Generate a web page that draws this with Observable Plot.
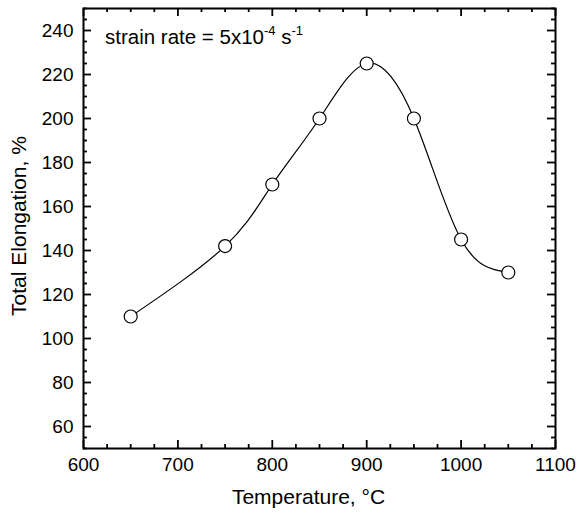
<!DOCTYPE html>
<html>
<head>
<meta charset="utf-8">
<script src="https://cdn.jsdelivr.net/npm/d3@7"></script>
<script src="https://cdn.jsdelivr.net/npm/@observablehq/plot@0.6"></script>
<style>
  html, body { margin: 0; padding: 0; background: #fff; }
  #chart { width: 578px; height: 514px; }
</style>
</head>
<body>
<div id="chart"></div>
<script>
// Data
const temperature = [650, 750, 800, 850, 900, 950, 1000, 1050];
const elongation  = [110, 142, 170, 200, 225, 200, 145, 130];

// Tick labels / tick positions
const xMajorTicks = [600, 700, 800, 900, 1000, 1100];
const xMinorTicks = [625, 650, 675, 725, 750, 775, 825, 850, 875, 925, 950, 975, 1025, 1050, 1075];
const yMajorTicks = [60, 80, 100, 120, 140, 160, 180, 200, 220, 240];
const yMinorTicks = [50, 55, 65, 70, 75, 85, 90, 95, 105, 110, 115, 125, 130, 135, 145, 150, 155, 165, 170, 175, 185, 190, 195, 205, 210, 215, 225, 230, 235, 245, 250];

const xTitle = "Temperature, \u00B0C";
const yTitle = "Total Elongation, %";

const data = temperature.map((t, i) => ({t, e: elongation[i]}));

const W = 578, H = 514;
const marginLeft = 83, marginTop = 8, marginRight = 23, marginBottom = 66;
const fw = W - marginLeft - marginRight;   // frame width
const fh = H - marginTop - marginBottom;   // frame height
const major = 8, minor = 4, tw = 1.8;

const tickMarks = [
  // bottom ticks (inward)
  Plot.tickX(xMajorTicks, {x: d => d, insetTop: fh - major, stroke: "#000", strokeWidth: tw}),
  Plot.tickX(xMinorTicks, {x: d => d, insetTop: fh - minor, stroke: "#000", strokeWidth: tw}),
  // top ticks (inward)
  Plot.tickX(xMajorTicks, {x: d => d, insetBottom: fh - major, stroke: "#000", strokeWidth: tw}),
  Plot.tickX(xMinorTicks, {x: d => d, insetBottom: fh - minor, stroke: "#000", strokeWidth: tw}),
  // left ticks (inward)
  Plot.tickY(yMajorTicks, {y: d => d, insetRight: fw - major, stroke: "#000", strokeWidth: tw}),
  Plot.tickY(yMinorTicks, {y: d => d, insetRight: fw - minor, stroke: "#000", strokeWidth: tw}),
  // right ticks (inward)
  Plot.tickY(yMajorTicks, {y: d => d, insetLeft: fw - major, stroke: "#000", strokeWidth: tw}),
  Plot.tickY(yMinorTicks, {y: d => d, insetLeft: fw - minor, stroke: "#000", strokeWidth: tw})
];

const fontFamily = "'Liberation Sans', Arial, Helvetica, sans-serif";

const chart = Plot.plot({
  width: W,
  height: H,
  marginLeft, marginTop, marginRight, marginBottom,
  style: {fontFamily, fontSize: "19px", color: "black", background: "white"},
  x: {domain: [600, 1100]},
  y: {domain: [50, 250]},
  marks: [
    ...tickMarks,
    Plot.axisX(xMajorTicks, {anchor: "bottom", tickSize: 0, tickPadding: 9, tickFormat: d => String(d), fontSize: 19, label: null}),
    Plot.axisY(yMajorTicks, {anchor: "left", tickSize: 0, tickPadding: 10, tickFormat: d => String(d), fontSize: 19, label: null}),
    Plot.frame({stroke: "black", strokeWidth: 2}),
    Plot.line(data, {x: "t", y: "e", curve: "natural", stroke: "black", strokeWidth: 1.2}),
    Plot.dot(data, {x: "t", y: "e", r: 6.5, fill: "white", stroke: "black", strokeWidth: 1.2}),
    Plot.text([xTitle], {frameAnchor: "bottom", dx: -11, dy: 49, textAnchor: "middle", lineAnchor: "middle", fontSize: 21, fill: "black"}),
    Plot.text([yTitle], {frameAnchor: "left", dx: -64, dy: -2.5, rotate: -90, textAnchor: "middle", lineAnchor: "middle", fontSize: 21, fill: "black"})
  ]
});

// Annotation with superscripts
const svg = d3.select(chart);
const ann = svg.append("text")
  .attr("x", marginLeft + 22)
  .attr("y", marginTop + 36)
  .attr("text-anchor", "start")
  .attr("font-family", fontFamily)
  .attr("font-size", 20.5)
  .attr("fill", "black");
ann.append("tspan").text("strain rate = 5x10");
ann.append("tspan").attr("font-size", 13).attr("dy", -9).text("-4");
ann.append("tspan").attr("dy", 9).text(" s");
ann.append("tspan").attr("font-size", 13).attr("dy", -9).text("-1");

document.getElementById("chart").appendChild(chart);
</script>
</body>
</html>
